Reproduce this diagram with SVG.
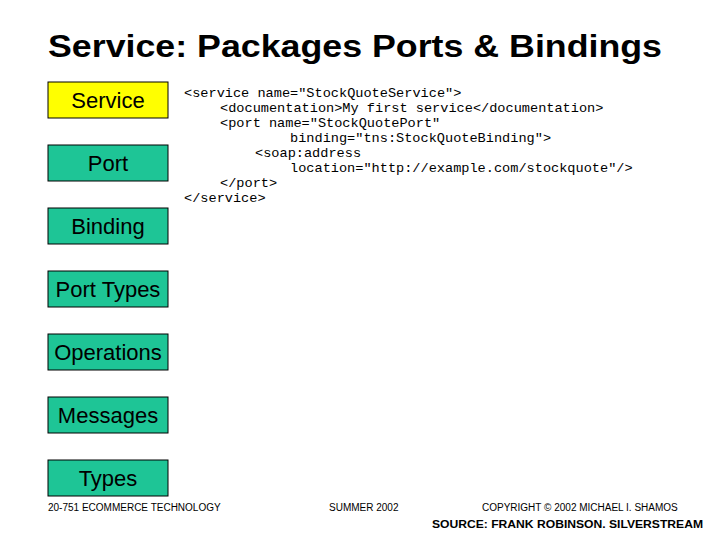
<svg xmlns="http://www.w3.org/2000/svg" width="720" height="540" viewBox="0 0 720 540">
<style>
.b{fill:#1ec596;stroke:#000;stroke-width:1}
.bl{font-family:"Liberation Sans",Arial,sans-serif;font-size:22px;fill:#000;text-anchor:middle}
.c{font-family:"Liberation Mono","Courier New",monospace;font-size:13.6px;fill:#000;white-space:pre}
.f{font-family:"Liberation Sans",Arial,sans-serif;font-size:10px;fill:#000}
</style>
<rect width="720" height="540" fill="#fff"/>
<text x="355" y="57" text-anchor="middle" font-family="Liberation Sans,Arial,sans-serif" font-size="32" font-weight="bold" fill="#000" textLength="614" lengthAdjust="spacingAndGlyphs">Service: Packages Ports &amp; Bindings</text>
<g id="service"><rect x="48" y="82" width="120" height="36" fill="#ffff00" stroke="#000"/><text class="bl" x="108" y="108">Service</text></g>
<g id="port"><rect class="b" x="48" y="145" width="120" height="36"/><text class="bl" x="108" y="171">Port</text></g>
<g id="binding"><rect class="b" x="48" y="208" width="120" height="36"/><text class="bl" x="108" y="234">Binding</text></g>
<g id="porttypes"><rect class="b" x="48" y="271" width="120" height="36"/><text class="bl" x="108" y="297">Port Types</text></g>
<g id="operations"><rect class="b" x="48" y="334" width="120" height="36"/><text class="bl" x="108" y="360">Operations</text></g>
<g id="messages"><rect class="b" x="48" y="397" width="120" height="36"/><text class="bl" x="108" y="423">Messages</text></g>
<g id="types"><rect class="b" x="48" y="460" width="120" height="36"/><text class="bl" x="108" y="486">Types</text></g>
<g id="connectors"/>
<g id="code">
<text class="c" x="184" y="97">&lt;service name="StockQuoteService"&gt;</text>
<text class="c" x="220" y="112">&lt;documentation&gt;My first service&lt;/documentation&gt;</text>
<text class="c" x="220" y="127">&lt;port name="StockQuotePort"</text>
<text class="c" x="290" y="142">binding="tns:StockQuoteBinding"&gt;</text>
<text class="c" x="255" y="157">&lt;soap:address</text>
<text class="c" x="290" y="172">location="http://example.com/stockquote"/&gt;</text>
<text class="c" x="220" y="187">&lt;/port&gt;</text>
<text class="c" x="184" y="202">&lt;/service&gt;</text>
</g>
<text class="f" x="48" y="511">20-751 ECOMMERCE TECHNOLOGY</text>
<text class="f" x="329" y="511">SUMMER 2002</text>
<text class="f" x="482" y="511">COPYRIGHT © 2002 MICHAEL I. SHAMOS</text>
<text x="432" y="528" font-family="Liberation Sans,Arial,sans-serif" font-size="11.5" font-weight="bold" fill="#000" textLength="271" lengthAdjust="spacingAndGlyphs">SOURCE: FRANK ROBINSON. SILVERSTREAM</text>
</svg>
